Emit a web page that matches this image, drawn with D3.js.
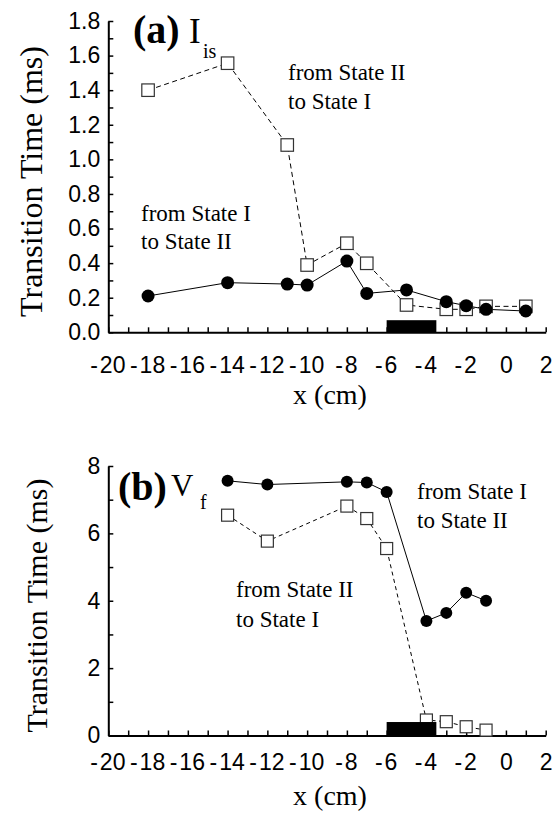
<!DOCTYPE html>
<html>
<head>
<meta charset="utf-8">
<script src="https://cdn.jsdelivr.net/npm/d3@7"></script>
<style>
  body { margin: 0; background: #fff; }
  svg { display: block; }
  .serif { font-family: "Liberation Serif", "Times New Roman", serif; fill: #000; }
</style>
</head>
<body>
<svg id="chart" width="559" height="815"></svg>
<script>
// x positions (cm), shared by both panels
const xDomain = [-20, 2];
const xTicks = d3.range(-20, 3, 1);

// panel (a): I_is
const aFilledX = [-18, -14, -11, -10, -8, -7, -5, -3, -2, -1, 1];
const aFilledY = [0.21, 0.287, 0.279, 0.273, 0.412, 0.225, 0.245, 0.177, 0.154, 0.133, 0.123];
const aOpenX = [-18, -14, -11, -10, -8, -7, -5, -3, -2, -1, 1];
const aOpenY = [1.40, 1.556, 1.083, 0.389, 0.515, 0.399, 0.158, 0.133, 0.133, 0.150, 0.150];
const aYTicks = d3.range(0, 19).map((i) => i / 10);

// panel (b): V_f
const bFilledX = [-14, -12, -8, -7, -6, -4, -3, -2, -1];
const bFilledY = [7.56, 7.45, 7.53, 7.51, 7.23, 3.40, 3.64, 4.24, 4.00];
const bOpenX = [-14, -12, -8, -7, -6, -4, -3, -2, -1];
const bOpenY = [6.54, 5.77, 6.81, 6.44, 5.55, 0.46, 0.41, 0.26, 0.16];
const bYTicks = d3.range(0, 9);

// black bar on the x axis
const barRange = [-6, -3.5];

const TICK_FONT = '"Liberation Sans", Arial, sans-serif';
const TICK_SIZE = 23;

const svg = d3.select("#chart");
svg.append("rect").attr("width", 559).attr("height", 815).attr("fill", "#fff");

const left = 108.3, right = 545.7;

drawPanel({
  top: 21, bottom: 332.3, yMax: 1.8, yTicks: aYTicks,
  yLabel: (d) => (Math.round(d * 10) % 2 === 0 ? d3.format(".1f")(d) : ""),
  filled: aFilledX.map((x, i) => [x, aFilledY[i]]),
  open: aOpenX.map((x, i) => [x, aOpenY[i]]),
  barH: 0.07, r: 6.5, sq: 12.5, dash: "5,3.5",
  xLabelY: 373, xTitleY: 404, yTitle: { x: 42, y: 181.5, size: 32 },
  tag: { text: "(a)", x: 133, y: 43, sym: "I", symX: 189, symY: 43, symSize: 35, sub: "is", subX: 203, subY: 58 },
  notes: [
    { x: 288, y: 80, lines: ["from State II", "to State I"], dy: 29 },
    { x: 141, y: 221, lines: ["from State I", "to State II"], dy: 28 }
  ]
});

drawPanel({
  top: 466, bottom: 735.5, yMax: 8, yTicks: bYTicks,
  yLabel: (d) => (d % 2 === 0 ? String(d) : ""),
  filled: bFilledX.map((x, i) => [x, bFilledY[i]]),
  open: bOpenX.map((x, i) => [x, bOpenY[i]]),
  barH: 0.4, r: 6, sq: 12, dash: "4,3.5",
  xLabelY: 770, xTitleY: 805, yTitle: { x: 47, y: 605.5, size: 30 },
  tag: { text: "(b)", x: 118, y: 500, sym: "V", symX: 171, symY: 496, symSize: 31, sub: "f", subX: 200, subY: 509 },
  notes: [
    { x: 417, y: 499, lines: ["from State I", "to State II"], dy: 29 },
    { x: 236, y: 597, lines: ["from State II", "to State I"], dy: 30 }
  ]
});

function drawPanel(c) {
  const x = d3.scaleLinear().domain(xDomain).range([left, right]);
  const y = d3.scaleLinear().domain([0, c.yMax]).range([c.bottom, c.top]);
  const g = svg.append("g");

  // y axis
  const yAxis = g.append("g")
    .attr("transform", `translate(${left},0)`)
    .call(d3.axisLeft(y).tickValues(c.yTicks).tickSize(-5).tickSizeOuter(0).tickPadding(8).tickFormat(c.yLabel));
  yAxis.attr("font-family", TICK_FONT).attr("font-size", TICK_SIZE);
  yAxis.select(".domain").attr("stroke-width", 2);
  yAxis.selectAll(".tick line").attr("stroke-width", 1.5);

  // x axis
  const xAxis = g.append("g")
    .attr("transform", `translate(0,${c.bottom})`)
    .call(d3.axisBottom(x).tickValues(xTicks).tickSize(-5).tickSizeOuter(0)
      .tickFormat((d) => (d % 2 === 0 ? String(d) : "")));
  xAxis.attr("font-family", TICK_FONT).attr("font-size", TICK_SIZE);
  xAxis.select(".domain").attr("stroke-width", 2);
  xAxis.selectAll(".tick line").attr("stroke-width", 1.5);
  xAxis.selectAll(".tick text").each(function (d) {
    const t = d3.select(this).attr("y", c.xLabelY - c.bottom).attr("dy", null);
    if (d < 0 && d % 2 === 0) {
      t.text("");
      t.append("tspan").text("-");
      t.append("tspan").attr("dx", 2).text(String(-d));
      t.attr("dx", -1);
    }
  });

  // axis titles
  g.append("text").attr("class", "serif")
    .attr("transform", `translate(${c.yTitle.x},${c.yTitle.y}) rotate(-90)`)
    .attr("text-anchor", "middle").attr("font-size", c.yTitle.size)
    .text("Transition Time (ms)");
  g.append("text").attr("class", "serif")
    .attr("x", 330).attr("y", c.xTitleY).attr("text-anchor", "middle").attr("font-size", 28)
    .text("x (cm)");

  const line = d3.line().x((d) => x(d[0])).y((d) => y(d[1]));

  // open squares, dashed
  g.append("path").datum(c.open).attr("d", line)
    .attr("fill", "none").attr("stroke", "#000").attr("stroke-width", 1).attr("stroke-dasharray", c.dash);
  // filled circles, solid
  g.append("path").datum(c.filled).attr("d", line)
    .attr("fill", "none").attr("stroke", "#000").attr("stroke-width", 1);

  g.selectAll("rect.sq").data(c.open).join("rect").attr("class", "sq")
    .attr("x", (d) => x(d[0]) - c.sq / 2).attr("y", (d) => y(d[1]) - c.sq / 2)
    .attr("width", c.sq).attr("height", c.sq)
    .attr("fill", "#fff").attr("stroke", "#333").attr("stroke-width", 1.2);

  // bar on the axis
  g.append("rect")
    .attr("x", x(barRange[0])).attr("y", y(c.barH))
    .attr("width", x(barRange[1]) - x(barRange[0])).attr("height", y(0) - y(c.barH))
    .attr("fill", "#000");

  g.selectAll("circle.pt").data(c.filled).join("circle").attr("class", "pt")
    .attr("cx", (d) => x(d[0])).attr("cy", (d) => y(d[1])).attr("r", c.r)
    .attr("fill", "#000");

  // panel tag
  g.append("text").attr("class", "serif").attr("x", c.tag.x).attr("y", c.tag.y)
    .attr("font-size", 40).attr("font-weight", "bold").text(c.tag.text);
  g.append("text").attr("class", "serif").attr("x", c.tag.symX).attr("y", c.tag.symY)
    .attr("font-size", c.tag.symSize).text(c.tag.sym);
  g.append("text").attr("class", "serif").attr("x", c.tag.subX).attr("y", c.tag.subY)
    .attr("font-size", 20).text(c.tag.sub);

  // annotations
  c.notes.forEach((n) => {
    n.lines.forEach((s, i) => {
      g.append("text").attr("class", "serif").attr("x", n.x).attr("y", n.y + i * n.dy)
        .attr("font-size", 23).text(s);
    });
  });
}
</script>
</body>
</html>
